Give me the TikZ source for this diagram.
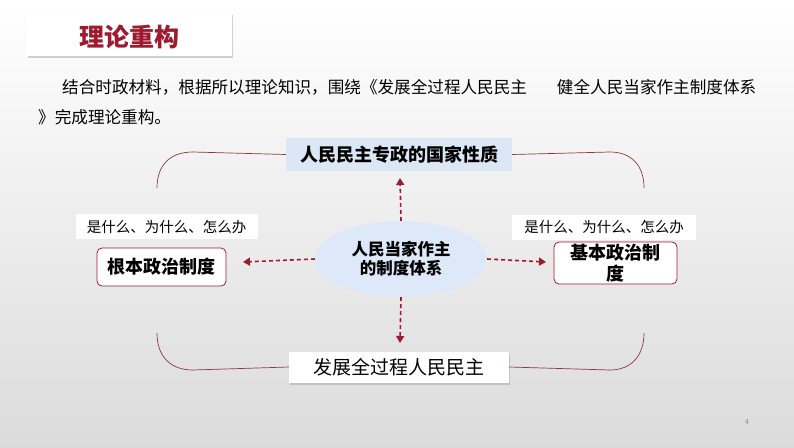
\documentclass[tikz,border=0pt]{standalone}
\usepackage{fontspec}
\setmainfont{Noto Sans CJK SC}
\usetikzlibrary{arrows.meta,shadows,shapes.geometric}
\definecolor{darkred}{HTML}{9E1B2F}
\definecolor{brk}{HTML}{8C3A3A}
\definecolor{lblue}{HTML}{DCE7F6}
\definecolor{ellblue}{HTML}{DDE8F8}
\tikzset{
  px/.style={x=1pt,y=-1pt},
  fs/.style={font=\fontsize{#1}{#1}\selectfont},
  fsb/.style={font=\fontsize{#1}{1.15\dimexpr#1pt\relax}\selectfont\bfseries},
  darr/.style={draw=darkred,line width=1.6pt,dash pattern=on 4pt off 3pt,-{Triangle[length=7pt,width=8pt]}},
  brack/.style={draw=brk,line width=0.7pt},
  sysbox/.style={draw=darkred,line width=0.8pt,fill=white,rounded corners=5pt,inner sep=0pt},
  lblbox/.style={fill=white,minimum width=182pt,minimum height=25pt,inner sep=0pt},
}
\begin{document}
\begin{tikzpicture}[px]
\useasboundingbox (0,0) rectangle (794,447);
\shade[top color=white,bottom color=black!14] (0,0) rectangle (794,447);
% title
\node[fill=white,drop shadow={shadow xshift=1pt,shadow yshift=-2pt,opacity=0.35},minimum width=205pt,minimum height=43pt,inner sep=0pt] (title) at (129.5,34.5) {};
\node[fsb=25,text=darkred] (titletxt) at (129,37) {理论重构};
% paragraph
\node[anchor=west,fs=16.6,inner sep=0pt] (p1) at (62,87) {结合时政材料，根据所以理论知识，围绕《发展全过程人民民主\hspace{30pt}健全人民当家作主制度体系};
\node[anchor=west,fs=16.6,inner sep=0pt] (p2) at (38,117) {》完成理论重构。};
% top node
\node[fill=lblue,minimum width=226pt,minimum height=33pt,inner sep=0pt,fsb=18] (top) at (399,154.5) {人民民主专政的国家性质};
% bottom node
\node[fill=white,drop shadow={shadow xshift=1pt,shadow yshift=-2pt,opacity=0.3},minimum width=220pt,minimum height=31pt,inner sep=0pt,fs=19] (bot) at (399,367) {发展全过程人民民主};
% brackets
\coordinate (tl) at (157,188);
\coordinate (tr) at (644,188);
\coordinate (bl) at (157,333);
\coordinate (br) at (644,333);
\draw[brack] (top.west) -- (193,152) .. controls (170,152) and (157,165) .. (tl);
\draw[brack] (top.east) -- (610,152) .. controls (631,152) and (644,165) .. (tr);
\draw[brack] (bot.west) -- (193,370) .. controls (170,370) and (157,356) .. (bl);
\draw[brack] (bot.east) -- (610,370) .. controls (631,370) and (644,356) .. (br);
% center ellipse
\node[ellipse,fill=ellblue,minimum width=172pt,minimum height=76pt,inner sep=0pt,fsb=16.5,align=center] (ctr) at (401,259) {人民当家作主\\的制度体系};
% side nodes
\node[sysbox,minimum width=129pt,minimum height=38pt,fsb=18] (left) at (161.5,267) {根本政治制度};
\node[sysbox,minimum width=123pt,minimum height=42pt,fsb=18,align=center] (right) at (615.5,263) {基本政治制\\度};
\node[lblbox,fs=14.5] (llbl) at (166.5,226.5) {是什么、为什么、怎么办};
\node[lblbox,fs=14.5,minimum width=184pt] (rlbl) at (604,227) {是什么、为什么、怎么办};
% arrows
\coordinate (la) at (243,262);
\coordinate (ra) at (546,262);
\draw[darr] (ctr.north) -- (400,178);
\draw[darr] (ctr.south) -- (400,343);
\draw[darr] (ctr.west) -- (la);
\draw[darr] (ctr.east) -- (ra);
% page number
\node[fs=7,text=black!45] (pg) at (747,422) {4};
\end{tikzpicture}
\end{document}
